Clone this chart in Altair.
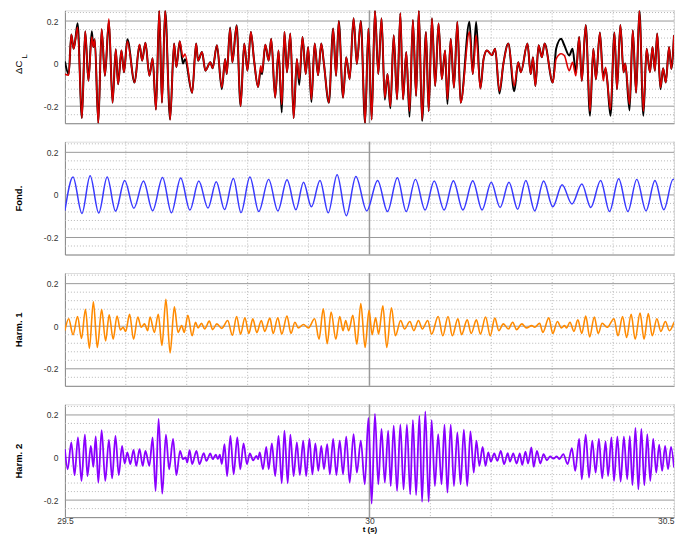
import altair as alt
import pandas as pd

T0 = 29.5  # seconds; times below are in ms after T0

# Fundamental component (ms, value) – extrema
FOND = [(0.0,-0.074),(13.3,0.084),(27.9,-0.087),(41.4,0.09),(55.5,-0.085),(69.4,0.084),(83.1,-0.076),(98.1,0.068),
        (113.2,-0.063),(129.0,0.065),(144.0,-0.074),(160.3,0.082),(174.9,-0.084),(190.1,0.079),(205.2,-0.071),
        (219.8,0.065),(234.9,-0.062),(248.5,0.062),(262.0,-0.069),(276.6,0.077),(289.1,-0.083),(303.7,0.084),
        (318.3,-0.078),(334.5,0.073),(349.6,-0.075),(364.7,0.071),(379.3,-0.070),(391.7,0.060),(404.7,-0.056),
        (418.8,0.068),(432.3,-0.084),(446.9,0.095),(462.0,-0.098),(477.7,0.087),(495.6,-0.075),(513.4,0.068),
        (529.6,-0.078),(545.8,0.081),(560.4,-0.078),(575.5,0.073),(591.3,-0.071),(606.3,0.065),(622.6,-0.071),
        (637.8,0.067),(653.4,-0.071),(669.6,0.067),(684.9,-0.071),(699.9,0.059),(714.5,-0.059),(729.1,0.059),
        (743.3,-0.067),(756.7,0.068),(771.3,-0.075),(785.9,0.065),(801.0,-0.056),(816.3,0.048),(832.5,-0.043),
        (848.7,0.051),(863.3,-0.059),(879.5,0.068),(894.1,-0.078),(909.2,0.076),(924.3,-0.078),(938.9,0.073),
        (954.1,-0.075),(968.7,0.068),(983.3,-0.070),(998.4,0.073),(1000.0,0.072)]

HARM1 = [(0.0,-0.02),(6.2,0.035),(13.3,-0.04),(20.8,0.046),(27.2,-0.058),(33.7,0.08),(40.2,-0.104),(46.7,0.115),
         (53.2,-0.10),(60.3,0.078),(66.8,-0.069),(72.7,0.054),(79.2,-0.061),(85.6,0.048),(91.2,-0.018),(95.4,-0.005),
         (99.8,-0.024),(106.2,0.056),(112.7,-0.061),(119.7,0.043),(125.2,-0.005),(130.6,0.011),(135.9,-0.021),
         (139.8,0.043),(146.8,-0.029),(153.3,0.056),(159.3,-0.09),(165.8,0.126),(172.7,-0.125),(179.7,0.091),
         (185.7,-0.029),(191.7,0.003),(195.9,-0.029),(201.9,0.051),(208.9,-0.045),(214.4,0.019),(218.6,-0.008),
         (224.2,0.014),(229.5,-0.013),(237.1,0.024),(242.5,-0.016),(249.5,0.011),(257.6,-0.01),(267.3,0.027),
         (274.9,-0.042),(281.9,0.046),(288.4,-0.037),(295.5,0.04),(302.0,-0.034),(308.5,0.035),(315.0,-0.03),
         (322.5,0.027),(328.0,-0.024),(336.6,0.038),(341.9,-0.034),(349.5,0.04),(356.0,-0.037),(364.6,0.048),
         (371.1,-0.034),(377.6,0.019),(383.1,-0.008),(391.7,0.008),(399.8,-0.008),(410.0,0.035),(417.2,-0.061),
         (424.2,0.082),(430.6,-0.082),(437.1,0.067),(444.8,-0.061),(451.2,0.046),(456.6,-0.021),(461.0,0.027),
         (465.8,-0.021),(472.8,0.051),(479.3,-0.085),(485.8,0.107),(492.8,-0.10),(499.3,0.075),(504.4,-0.04),
         (510.1,0.04),(515.0,-0.037),(522.0,0.096),(528.4,-0.10),(536.1,0.086),(542.6,-0.045),(551.2,0.027),
         (557.6,-0.013),(566.4,0.022),(572.9,-0.021),(580.4,0.027),(586.8,-0.013),(595.6,0.027),(602.1,-0.037),
         (612.8,0.046),(620.4,-0.045),(629.0,0.046),(636.1,-0.045),(645.2,0.035),(651.2,-0.04),(660.5,0.03),
         (667.0,-0.034),(675.6,0.03),(682.1,-0.037),(690.7,0.043),(698.3,-0.045),(705.9,0.038),(712.4,-0.021),
         (719.8,0.011),(728.0,-0.013),(735.1,0.019),(741.6,-0.016),(750.2,0.011),(757.8,-0.008),(766.4,0.003),
         (771.3,-0.005),(779.4,0.014),(784.7,-0.029),(794.5,0.04),(800.9,-0.034),(808.6,0.022),(815.1,-0.008),
         (820.4,0.003),(823.7,-0.008),(829.2,0.019),(835.7,-0.024),(842.1,0.03),(848.6,-0.034),(855.1,0.048),
         (861.6,-0.05),(869.1,0.043),(875.6,-0.034),(882.0,0.014),(890.2,-0.005),(901.5,0.035),(908.0,-0.045),
         (915.6,0.046),(922.1,-0.053),(929.7,0.056),(936.2,-0.061),(944.3,0.062),(950.8,-0.061),(957.8,0.059),
         (964.3,-0.045),(971.9,0.035),(978.4,-0.024),(985.9,0.022),(992.4,-0.021),(1000.0,0.019)]

HARM2 = [(0.0,0.04),(4.5,-0.055),(10.5,0.071),(15.9,-0.083),(21.4,0.094),(27.2,-0.11),(32.8,0.107),(37.0,-0.087),
         (42.5,0.055),(46.7,-0.044),(50.6,0.099),(54.8,-0.118),(60.3,0.129),(66.2,-0.11),(72.2,0.083),(77.5,-0.098),
         (83.0,0.102),(88.4,-0.083),(93.8,0.055),(98.1,-0.028),(102.5,0.024),(107.4,-0.031),(112.7,0.036),
         (117.1,-0.039),(122.5,0.039),(127.8,-0.039),(132.2,0.031),(138.7,-0.039),(144.0,0.094),(148.9,-0.157),
         (153.8,0.181),(159.8,-0.17),(165.8,0.107),(171.1,-0.055),(177.6,0.087),(183.0,-0.083),(189.0,0.031),
         (193.8,-0.008),(198.2,0.0),(200.8,-0.024),(204.7,0.035),(208.9,-0.031),(216.0,0.031),(220.9,-0.031),
         (227.9,0.02),(232.3,-0.016),(238.8,0.019),(242.5,-0.008),(247.8,0.013),(251.1,-0.008),(254.3,0.013),
         (257.6,-0.031),(262.0,0.063),(266.3,-0.087),(271.7,0.102),(277.0,-0.079),(283.0,0.094),(287.9,-0.055),
         (293.3,0.066),(298.8,-0.031),(303.6,0.019),(309.0,-0.013),(314.3,0.008),(317.1,-0.008),(319.9,0.024),
         (325.2,-0.055),(330.6,0.05),(334.5,-0.055),(339.8,0.066),(345.2,-0.087),(350.7,0.102),(356.0,-0.121),
         (360.4,0.126),(365.8,-0.121),(370.1,0.107),(375.5,-0.087),(380.8,0.071),(385.7,-0.082),(391.2,0.079),
         (396.1,-0.087),(401.4,0.087),(406.3,-0.079),(411.2,0.066),(416.0,-0.063),(420.9,0.055),(425.3,-0.055),
         (430.6,0.063),(435.0,-0.079),(440.4,0.087),(445.7,-0.082),(451.2,0.079),(456.6,-0.079),(461.9,0.098),
         (467.5,-0.118),(473.9,0.11),(479.3,-0.071),(485.8,0.079),(492.3,-0.126),(498.3,0.186),(503.6,-0.217),
         (509.0,0.205),(514.5,-0.126),(519.8,0.134),(525.2,-0.118),(530.7,0.126),(534.9,-0.134),(539.8,0.15),
         (545.3,-0.157),(550.7,0.154),(556.0,-0.15),(561.5,0.154),(566.9,-0.173),(571.3,0.176),(576.6,-0.176),
         (582.0,0.197),(586.4,-0.208),(591.7,0.217),(597.2,-0.208),(602.1,0.176),(607.4,-0.134),(612.8,0.11),
         (618.3,-0.126),(623.2,0.154),(628.0,-0.165),(633.4,0.154),(638.7,-0.134),(644.3,0.118),(649.6,-0.126),
         (655.0,0.131),(660.5,-0.134),(665.8,0.123),(671.2,-0.071),(675.6,0.079),(680.4,-0.039),(685.8,0.05),
         (690.6,-0.039),(695.0,0.024),(699.4,-0.019),(704.8,0.019),(710.1,-0.016),(715.6,0.031),(721.0,-0.031),
         (727.0,0.02),(730.7,-0.019),(736.1,0.019),(741.6,-0.028),(746.9,0.019),(750.7,-0.035),(756.2,0.028),
         (760.4,-0.028),(765.9,0.047),(769.6,-0.044),(775.0,0.031),(780.5,-0.028),(785.9,0.016),(791.2,-0.013),
         (796.7,0.005),(802.1,-0.005),(807.4,0.005),(811.8,-0.008),(818.3,0.016),(825.3,-0.031),(832.4,0.044),
         (837.8,-0.063),(844.3,0.087),(848.6,-0.102),(855.1,0.107),(860.5,-0.094),(865.8,0.079),(871.3,-0.071),
         (876.7,0.087),(882.1,-0.098),(887.6,0.076),(891.8,-0.087),(897.3,0.094),(901.5,-0.11),(907.0,0.098),
         (912.4,-0.113),(917.7,0.098),(923.2,-0.102),(927.4,0.10),(931.8,-0.13),(936.7,0.139),(941.5,-0.15),
         (946.4,0.134),(951.3,-0.13),(956.1,0.11),(961.0,-0.11),(965.9,0.087),(970.8,-0.071),(975.6,0.06),
         (980.5,-0.063),(985.4,0.055),(990.2,-0.055),(995.1,0.05),(1000.0,-0.047)]

# Delta C_L: reconstruction (red) and measured signal (black)
CL_RED = [(0.0,-0.05),(6.2,-0.054),(10.5,0.137),(14.3,0.07),(17.0,0.11),(20.8,0.17),(27.9,-0.256),(33.3,0.152),
          (38.6,-0.081),(44.1,0.125),(46.7,0.078),(49.0,0.114),(54.8,-0.28),(60.3,0.162),(65.7,-0.057),(72.2,0.21),
          (78.2,-0.184),(83.5,0.067),(87.3,-0.097),(92.8,0.062),(97.0,-0.041),(102.5,0.105),(114.4,-0.089),
          (122.5,0.089),(126.8,0.014),(132.2,0.098),(138.7,-0.057),(144.0,0.025),(149.5,-0.216),(154.9,0.26),
          (159.3,-0.184),(164.6,0.26),(172.7,-0.263),(179.2,0.094),(183.0,-0.017),(188.5,0.105),(193.8,0.03),
          (197.1,0.045),(208.9,-0.137),(215.4,0.094),(218.6,0.014),(225.1,0.054),(230.6,-0.033),(238.8,0.006),
          (242.5,-0.022),(249.5,0.086),(257.6,-0.113),(263.1,0.022),(265.7,-0.049),(271.2,0.165),(274.9,0.006),
          (281.9,0.178),(288.4,-0.2),(294.4,0.094),(299.7,-0.033),(305.3,0.149),(310.6,0.014),(317.1,-0.11),
          (321.5,-0.01),(323.6,-0.041),(329.0,0.089),(334.5,0.014),(338.7,0.117),(345.2,-0.16),(350.7,0.062),
          (356.0,-0.192),(360.4,0.149),(364.6,-0.041),(370.1,0.141),(375.5,-0.256),(380.8,0.022),(384.7,-0.073),
          (390.1,0.125),(395.4,-0.049),(399.3,0.078),(404.7,-0.168),(410.0,0.094),(415.6,-0.054),(420.9,0.094),
          (425.3,-0.002),(433.4,-0.184),(440.4,0.165),(445.2,-0.057),(449.6,0.2),(456.6,-0.16),(461.9,0.03),
          (467.5,-0.073),(473.9,0.213),(479.3,-0.002),(485.8,0.2),(492.8,-0.28),(498.3,0.165),(503.6,-0.263),
          (509.0,0.257),(514.5,-0.049),(519.8,0.213),(525.2,-0.16),(529.6,-0.049),(534.4,-0.2),(539.8,0.133),
          (545.3,-0.168),(550.7,0.237),(555.1,-0.168),(560.4,0.054),(565.8,-0.224),(571.3,0.205),(576.6,-0.152),
          (581.0,0.257),(586.4,-0.263),(592.8,0.149),(597.2,-0.224),(602.6,0.213),(607.9,-0.105),(613.4,0.189),
          (618.8,-0.073),(624.2,0.062),(628.0,-0.168),(633.4,0.117),(638.7,-0.113),(644.3,0.197),(649.6,-0.184),
          (664.2,0.15),(669.6,-0.049),(675.1,0.133),(682.1,-0.117),(687.4,0.022),(692.9,0.062),(701.0,0.04),
          (706.4,0.07),(713.4,-0.129),(719.8,-0.002),(728.0,0.094),(737.7,-0.105),(744.2,0.006),(748.6,-0.041),
          (759.4,0.094),(764.8,-0.049),(768.5,0.03),(772.4,-0.105),(777.7,0.086),(783.1,0.03),(787.5,0.094),
          (801.0,-0.089),(806.5,0.022),(814.6,0.046),(819.9,0.038),(828.0,-0.033),(833.4,0.006),(838.9,-0.057),
          (844.3,0.125),(848.6,-0.081),(855.1,0.181),(862.1,-0.224),(867.5,0.07),(871.8,-0.073),(878.3,0.146),
          (883.7,-0.081),(887.6,-0.017),(890.2,-0.073),(895.7,-0.216),(902.2,0.146),(906.4,-0.121),(911.9,0.181),
          (917.2,-0.041),(920.0,0.0),(927.0,-0.192),(932.3,0.157),(937.8,-0.137),(943.2,0.252),(949.7,-0.224),
          (955.0,0.07),(960.5,-0.041),(964.7,0.078),(968.6,-0.033),(972.4,0.141),(977.8,-0.113),(982.1,-0.022),
          (986.5,-0.089),(991.9,0.078),(995.6,-0.025),(1000.0,0.133)]

CL_BLACK = [(0.0,0.01),(6.2,-0.05),(10.5,0.137),(14.3,0.07),(17.0,0.11),(20.8,0.19),(27.9,-0.256),(33.3,0.152),
            (38.6,-0.081),(44.1,0.152),(46.7,0.078),(49.0,0.114),(54.8,-0.28),(60.3,0.162),(65.7,-0.057),(72.2,0.2),
            (78.2,-0.184),(83.5,0.067),(87.3,-0.097),(92.8,0.062),(97.0,-0.041),(102.5,0.115),(114.4,-0.089),
            (122.5,0.089),(126.8,0.014),(132.2,0.098),(138.7,-0.057),(144.0,0.025),(149.5,-0.216),(154.9,0.26),
            (159.3,-0.184),(164.6,0.26),(172.7,-0.263),(179.2,0.094),(183.0,-0.017),(188.5,0.105),(193.8,0.0),
            (197.1,0.02),(208.9,-0.137),(215.4,0.094),(218.6,0.014),(225.1,0.054),(230.6,-0.033),(238.8,0.006),
            (242.5,-0.022),(249.5,0.086),(257.6,-0.12),(263.1,0.022),(265.7,-0.049),(271.2,0.17),(274.9,0.006),
            (281.9,0.18),(288.4,-0.2),(294.4,0.094),(299.7,-0.033),(305.3,0.149),(310.6,0.014),(317.1,-0.11),
            (321.5,-0.03),(323.6,-0.05),(329.0,0.089),(334.5,0.014),(338.7,0.117),(345.2,-0.16),(350.7,0.062),
            (356.0,-0.23),(360.4,0.149),(364.6,-0.041),(370.1,0.141),(375.5,-0.256),(380.8,0.022),(384.7,-0.1),
            (390.1,0.125),(395.4,-0.049),(399.3,0.078),(404.7,-0.18),(410.0,0.094),(415.6,-0.054),(420.9,0.094),
            (425.3,-0.002),(433.4,-0.184),(440.4,0.165),(445.2,-0.057),(449.6,0.2),(456.6,-0.16),(461.9,0.03),
            (467.5,-0.073),(473.9,0.213),(479.3,-0.002),(485.8,0.2),(492.8,-0.28),(498.3,0.165),(503.6,-0.263),
            (509.0,0.257),(514.5,-0.049),(519.8,0.213),(525.2,-0.17),(529.6,-0.049),(534.4,-0.21),(539.8,0.133),
            (545.3,-0.168),(550.7,0.237),(555.1,-0.168),(560.4,0.054),(565.8,-0.25),(571.3,0.205),(576.6,-0.152),
            (581.0,0.257),(586.4,-0.27),(592.8,0.149),(597.2,-0.224),(602.6,0.213),(607.9,-0.105),(613.4,0.189),
            (618.8,-0.073),(624.2,0.062),(628.0,-0.19),(633.4,0.117),(638.7,-0.113),(644.3,0.197),(649.6,-0.184),
            (664.2,0.197),(669.6,-0.049),(675.1,0.197),(682.1,-0.117),(687.4,0.022),(692.9,0.062),(701.0,0.04),
            (706.4,0.07),(713.4,-0.14),(719.8,-0.002),(728.0,0.094),(737.7,-0.13),(744.2,0.006),(748.6,-0.041),
            (759.4,0.094),(764.8,-0.049),(768.5,0.03),(772.4,-0.105),(777.7,0.086),(783.1,0.03),(787.5,0.094),
            (801.0,-0.089),(806.5,0.07),(814.6,0.117),(819.9,0.086),(828.0,0.038),(833.4,0.07),(838.9,-0.041),
            (844.3,0.125),(848.6,-0.081),(855.1,0.181),(862.1,-0.245),(867.5,0.07),(871.8,-0.073),(878.3,0.146),
            (883.7,-0.06),(887.6,-0.025),(890.2,-0.073),(895.7,-0.245),(902.2,0.146),(906.4,-0.121),(911.9,0.181),
            (917.2,-0.041),(920.0,0.0),(927.0,-0.22),(932.3,0.157),(937.8,-0.137),(943.2,0.252),(949.7,-0.245),
            (955.0,0.07),(960.5,-0.041),(964.7,0.078),(968.6,-0.033),(972.4,0.141),(977.8,-0.12),(982.1,-0.022),
            (986.5,-0.089),(991.9,0.078),(995.6,-0.025),(1000.0,0.133)]

PANEL_TITLES = ["ΔC", "Fond.", "Harm. 1", "Harm. 2"]
X_TICKS = [29.5, 30.0, 30.5]
X_GRID_MINOR = [29.6, 29.7, 29.8, 29.9, 30.1, 30.2, 30.3, 30.4, 30.5]
X_GRID_MAJOR = [30.0]
Y_TICKS = [-0.2, 0.0, 0.2]
Y_GRID_MINOR = [0.24, 0.16, 0.12, 0.08, 0.04, -0.04, -0.08, -0.12, -0.16, -0.24]
Y_GRID_MAJOR = [-0.2, 0.0, 0.2]
X_DOMAIN = [29.5, 30.5]
Y_DOMAIN = [-0.28, 0.25]

FONT = "Liberation Sans"
W, H = 610, 113


def frame(pairs):
    return pd.DataFrame({"t": [T0 + a / 1000.0 for a, _ in pairs], "v": [b for _, b in pairs]})


XS = alt.Scale(domain=X_DOMAIN, nice=False, zero=False)
YS = alt.Scale(domain=Y_DOMAIN, nice=False, zero=False, clamp=True)

Y_LABEL_EXPR = "datum.value == 0 ? '0' : (datum.value < 0 ? '-' : '') + format(abs(datum.value), '.1f')"


def axes(title, bottom, bold=True):
    if bottom:
        xa = alt.Axis(values=X_TICKS, title="t (s)", ticks=False, grid=False, labelFlush=False,
                      labelExpr="datum.value == 30 ? '30' : format(datum.value, '.1f')",
                      labelAlign={"condition": {"test": "datum.value > 30.4", "value": "right"},
                                  "value": "center"},
                      labelFont=FONT, labelFontSize=8.5, labelColor="#333", labelPadding=-1,
                      titleFont=FONT, titleFontSize=8, titleFontWeight="bold", titleColor="#000",
                      titlePadding=0.5, domainColor="#888")
    else:
        xa = alt.Axis(values=X_TICKS, title=None, labels=False, ticks=False, grid=False, domainColor="#888")
    ya = alt.Axis(values=Y_TICKS, title=title, ticks=False, grid=False, labelExpr=Y_LABEL_EXPR,
                  labelFont=FONT, labelFontSize=8.5, labelColor="#333", labelPadding=7,
                  minExtent=22, maxExtent=22, titlePadding=19,
                  titleFont=FONT, titleFontSize=9.5, titleFontWeight="bold" if bold else "normal",
                  titleColor="#000", domainColor="#888")
    return xa, ya


def grid_layers(xa, ya):
    gx_min = alt.Chart(pd.DataFrame({"g": X_GRID_MINOR})).mark_rule(
        color="#b8b8b8", strokeWidth=1, strokeDash=[1, 2]).encode(x=alt.X("g:Q", scale=XS, axis=xa))
    gx_maj = alt.Chart(pd.DataFrame({"g": X_GRID_MAJOR})).mark_rule(
        color="#9a9a9a", strokeWidth=1.5).encode(x=alt.X("g:Q", scale=XS, axis=xa))
    gy_min = alt.Chart(pd.DataFrame({"g": Y_GRID_MINOR})).mark_rule(
        color="#b8b8b8", strokeWidth=1, strokeDash=[1, 2]).encode(y=alt.Y("g:Q", scale=YS, axis=ya))
    gy_maj = alt.Chart(pd.DataFrame({"g": Y_GRID_MAJOR})).mark_rule(
        color="#9a9a9a", strokeWidth=1).encode(y=alt.Y("g:Q", scale=YS, axis=ya))
    return [gx_min, gx_maj, gy_min, gy_maj]


def line(pairs, color, width, xa, ya):
    return alt.Chart(frame(pairs)).mark_line(
        color=color, strokeWidth=width, interpolate="monotone", clip=True
    ).encode(x=alt.X("t:Q", scale=XS, axis=xa), y=alt.Y("v:Q", scale=YS, axis=ya))


def panel(series, title, bottom, bold=True, extra=None):
    xa, ya = axes(title, bottom, bold)
    layers = grid_layers(xa, ya)
    for pairs, color, width in series:
        layers.append(line(pairs, color, width, xa, ya))
    if extra is not None:
        layers.append(extra)
    return alt.layer(*layers).properties(width=W, height=H)


sub_L = alt.Chart(pd.DataFrame({"s": ["L"]})).mark_text(
    angle=270, font=FONT, fontSize=7.5, color="#000000", align="center", baseline="middle"
).encode(x=alt.value(-40), y=alt.value(46), text="s:N")

p1 = panel([(CL_BLACK, "#000000", 2.0), (CL_RED, "#dd0000", 1.6)], PANEL_TITLES[0], False,
           bold=False, extra=sub_L)
p2 = panel([(FOND, "#3838ff", 1.5)], PANEL_TITLES[1], False)
p3 = panel([(HARM1, "#ff8a00", 1.6)], PANEL_TITLES[2], False)
p4 = panel([(HARM2, "#8a00ff", 1.8)], PANEL_TITLES[3], True)

chart = alt.vconcat(p1, p2, p3, p4, spacing=14.5).properties(
    padding={"left": 5, "top": 0, "right": 0, "bottom": 0}
).configure_view(stroke=None).configure(background="white")

chart.save("out.html", embed_options={"renderer": "svg", "actions": False})
